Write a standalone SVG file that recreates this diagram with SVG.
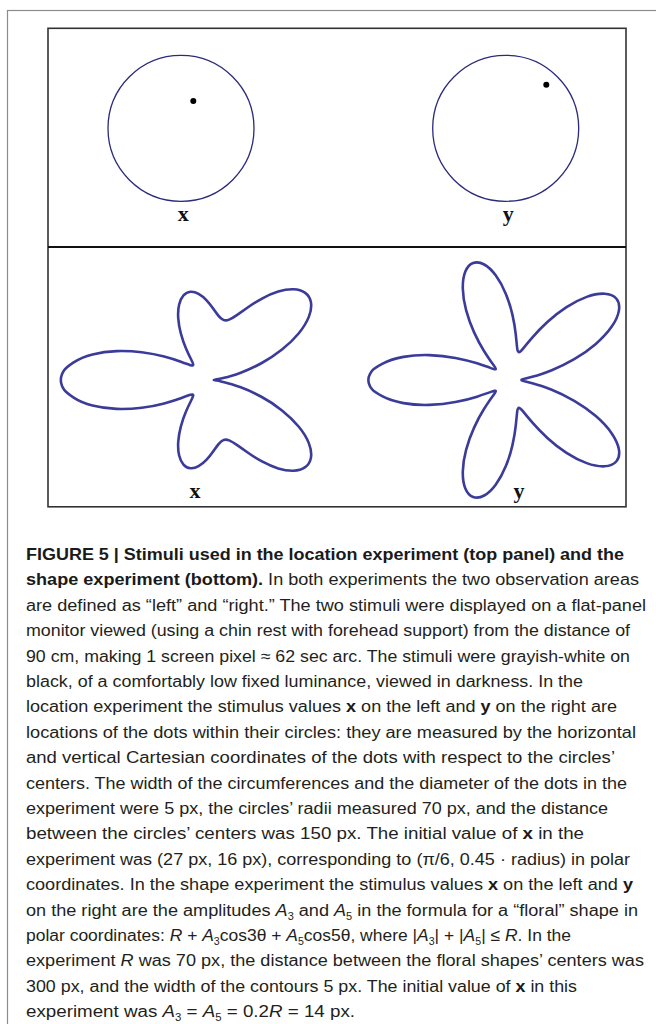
<svg xmlns="http://www.w3.org/2000/svg" width="656" height="1024" viewBox="0 0 656 1024">
<style>
.frame{fill:none;stroke:#8c8c8c;stroke-width:1.2}
.box{fill:none;stroke:#333;stroke-width:1.6}
.circ{fill:none;stroke:#2b2b7c;stroke-width:1.3}
.dot{fill:#000}
.flor{fill:none;stroke:#3b3b9a;stroke-width:2.6;stroke-linejoin:round}
.lab{font-family:"Liberation Serif","Times New Roman",serif;font-weight:bold;font-size:22px;fill:#111;text-anchor:middle}
.cap{font-family:"Liberation Sans",Arial,sans-serif;font-size:17.3px;fill:#231f20}
.b{font-weight:bold;fill:#1a1a1a}
.i{font-style:italic}
.s{font-size:10.5px}
</style>
<rect class="frame" x="7.5" y="10.5" width="700" height="1100"/>
<g id="figure">
<rect class="box" x="48" y="28.3" width="578" height="478.5"/>
<line x1="48" y1="247" x2="626" y2="247" stroke="#111" stroke-width="2"/>
</g>
<g id="top-x">
<circle class="circ" cx="181" cy="128.3" r="73"/>
<circle class="dot" cx="193.3" cy="101" r="3"/>
<text class="lab" x="183.3" y="221">x</text>
</g>
<g id="top-y">
<circle class="circ" cx="505.7" cy="128.3" r="73"/>
<circle class="dot" cx="546.3" cy="84.7" r="3"/>
<text class="lab" x="508.3" y="221">y</text>
</g>
<g id="floral-x">
<path class="flor" d="M61.2,383.25 Q60.5,380 61.2,376.75 Q61.9,373.5 63.95,370.45 Q66.0,367.4 73.65,362.35 Q81.3,357.3 92.5,354.4 Q103.7,351.5 116.55,351.1 Q129.4,350.7 141.75,352.3 Q154.1,353.9 164.15,356.6 Q174.2,359.3 180.85,361.75 Q187.5,364.2 190.45,365.15 Q193.4,366.1 193.2,364.55 Q193.0,363.0 190.8,358.75 Q188.6,354.5 185.8,347.95 Q183.0,341.4 180.9,333.65 Q178.8,325.9 178.25,318.35 Q177.7,310.8 179.1,304.8 Q180.5,298.8 183.5,295.45 Q186.5,292.1 190.45,291.8 Q194.4,291.5 198.55,293.8 Q202.7,296.1 206.35,300.05 Q210,304 212.95,308.25 Q215.9,312.5 218.35,315.65 Q220.8,318.8 223.3,319.9 Q225.8,321.0 229.1,319.65 Q232.4,318.3 237.2,314.9 Q242.0,311.5 248.4,307.0 Q254.8,302.5 262.5,298.3 Q270.2,294.1 278.25,291.6 Q286.3,289.1 293.4,289.3 Q300.5,289.5 305.2,292.85 Q309.9,296.2 310.95,302.4 Q312.0,308.6 308.9,316.65 Q305.8,324.7 298.8,333.25 Q291.8,341.8 282.0,349.6 Q272.2,357.4 261.35,363.25 Q250.5,369.1 240.75,372.7 Q231.0,376.3 224.2,377.85 Q217.4,379.4 214.95,379.7 Q212.5,380 214.95,380.3 Q217.4,380.6 224.2,382.15 Q231.0,383.7 240.75,387.3 Q250.5,390.9 261.35,396.75 Q272.2,402.6 282.0,410.4 Q291.8,418.2 298.8,426.75 Q305.8,435.3 308.9,443.35 Q312.0,451.4 310.95,457.6 Q309.9,463.8 305.2,467.15 Q300.5,470.5 293.4,470.7 Q286.3,470.9 278.25,468.4 Q270.2,465.9 262.5,461.7 Q254.8,457.5 248.4,453.0 Q242.0,448.5 237.2,445.1 Q232.4,441.7 229.1,440.35 Q225.8,439.0 223.3,440.1 Q220.8,441.2 218.35,444.35 Q215.9,447.5 212.95,451.75 Q210,456 206.35,459.95 Q202.7,463.9 198.55,466.2 Q194.4,468.5 190.45,468.2 Q186.5,467.9 183.5,464.55 Q180.5,461.2 179.1,455.2 Q177.7,449.2 178.25,441.65 Q178.8,434.1 180.9,426.35 Q183.0,418.6 185.8,412.05 Q188.6,405.5 190.8,401.25 Q193.0,397.0 193.2,395.45 Q193.4,393.9 190.45,394.85 Q187.5,395.8 180.85,398.25 Q174.2,400.7 164.15,403.4 Q154.1,406.1 141.75,407.7 Q129.4,409.3 116.55,408.9 Q103.7,408.5 92.5,405.6 Q81.3,402.7 73.65,397.65 Q66.0,392.6 63.95,389.55 Q61.9,386.5 61.2,383.25 Z"/>
<text class="lab" x="195" y="498">x</text>
</g>
<g id="floral-y">
<path class="flor" d="M368.8,383.05 Q368,380 368.8,376.95 Q369.6,373.9 371.85,371.0 Q374.1,368.1 382.65,363.6 Q391.2,359.1 403.5,356.9 Q415.8,354.7 429.4,355.15 Q443.0,355.6 455.45,358.0 Q467.9,360.4 477.05,363.35 Q486.2,366.3 490.9,368.1 Q495.6,369.9 495.75,369.05 Q495.9,368.2 492.6,363.75 Q489.3,359.3 484.15,351.2 Q479.0,343.1 474.1,332.4 Q469.2,321.7 466.1,310.15 Q463.0,298.6 462.8,288.45 Q462.6,278.3 465.35,271.6 Q468.1,264.9 473.15,263.05 Q478.2,261.2 484.2,264.5 Q490.2,267.8 495.85,275.55 Q501.5,283.3 505.75,293.65 Q510,304 512.4,314.65 Q514.8,325.3 515.7,333.9 Q516.6,342.5 517.05,347.25 Q517.5,352.0 518.8,352.15 Q520.1,352.3 523.45,348.1 Q526.8,343.9 532.9,336.85 Q539.0,329.8 547.65,321.8 Q556.3,313.8 566.5,307.15 Q576.7,300.5 586.7,296.9 Q596.7,293.3 604.55,293.7 Q612.4,294.1 616.25,298.5 Q620.1,302.9 618.95,310.35 Q617.8,317.8 611.75,326.6 Q605.7,335.4 595.8,343.9 Q585.9,352.4 574.25,359.15 Q562.6,365.9 551.75,370.25 Q540.9,374.6 533.2,376.6 Q525.5,378.6 522.75,379.3 Q520,380 522.75,380.7 Q525.5,381.4 533.2,383.4 Q540.9,385.4 551.75,389.75 Q562.6,394.1 574.25,400.85 Q585.9,407.6 595.8,416.1 Q605.7,424.6 611.75,433.4 Q617.8,442.2 618.95,449.65 Q620.1,457.1 616.25,461.5 Q612.4,465.9 604.55,466.3 Q596.7,466.7 586.7,463.1 Q576.7,459.5 566.5,452.85 Q556.3,446.2 547.65,438.2 Q539.0,430.2 532.9,423.15 Q526.8,416.1 523.45,411.9 Q520.1,407.7 518.8,407.85 Q517.5,408.0 517.05,412.75 Q516.6,417.5 515.7,426.1 Q514.8,434.7 512.4,445.35 Q510,456 505.75,466.35 Q501.5,476.7 495.85,484.45 Q490.2,492.2 484.2,495.5 Q478.2,498.8 473.15,496.95 Q468.1,495.1 465.35,488.4 Q462.6,481.7 462.8,471.55 Q463.0,461.4 466.1,449.85 Q469.2,438.3 474.1,427.6 Q479.0,416.9 484.15,408.8 Q489.3,400.7 492.6,396.25 Q495.9,391.8 495.75,390.95 Q495.6,390.1 490.9,391.9 Q486.2,393.7 477.05,396.65 Q467.9,399.6 455.45,402.0 Q443.0,404.4 429.4,404.85 Q415.8,405.3 403.5,403.1 Q391.2,400.9 382.65,396.4 Q374.1,391.9 371.85,389.0 Q369.6,386.1 368.8,383.05 Z"/>
<text class="lab" x="519" y="498">y</text>
</g>
<g id="caption" class="cap">
<text x="26" y="560" textLength="598" lengthAdjust="spacingAndGlyphs" class="b">FIGURE 5 | Stimuli used in the location experiment (top panel) and the</text>
<text x="26" y="585.4" textLength="613" lengthAdjust="spacingAndGlyphs"><tspan class="b">shape experiment (bottom).</tspan> In both experiments the two observation areas</text>
<text x="26" y="610.8" textLength="620" lengthAdjust="spacingAndGlyphs">are defined as “left” and “right.” The two stimuli were displayed on a flat-panel</text>
<text x="26" y="636.2" textLength="604" lengthAdjust="spacingAndGlyphs">monitor viewed (using a chin rest with forehead support) from the distance of</text>
<text x="26" y="661.6" textLength="604" lengthAdjust="spacingAndGlyphs">90 cm, making 1 screen pixel ≈ 62 sec arc. The stimuli were grayish-white on</text>
<text x="26" y="687" textLength="557" lengthAdjust="spacingAndGlyphs">black, of a comfortably low fixed luminance, viewed in darkness. In the</text>
<text x="26" y="712.4" textLength="591" lengthAdjust="spacingAndGlyphs">location experiment the stimulus values <tspan class="b">x</tspan> on the left and <tspan class="b">y</tspan> on the right are</text>
<text x="26" y="737.8" textLength="610" lengthAdjust="spacingAndGlyphs">locations of the dots within their circles: they are measured by the horizontal</text>
<text x="26" y="763.2" textLength="589" lengthAdjust="spacingAndGlyphs">and vertical Cartesian coordinates of the dots with respect to the circles’</text>
<text x="26" y="788.6" textLength="601" lengthAdjust="spacingAndGlyphs">centers. The width of the circumferences and the diameter of the dots in the</text>
<text x="26" y="814" textLength="582" lengthAdjust="spacingAndGlyphs">experiment were 5 px, the circles’ radii measured 70 px, and the distance</text>
<text x="26" y="839.4" textLength="558" lengthAdjust="spacingAndGlyphs">between the circles’ centers was 150 px. The initial value of <tspan class="b">x</tspan> in the</text>
<text x="26" y="864.8" textLength="604" lengthAdjust="spacingAndGlyphs">experiment was (27 px, 16 px), corresponding to (π/6, 0.45 · radius) in polar</text>
<text x="26" y="890.2" textLength="607" lengthAdjust="spacingAndGlyphs">coordinates. In the shape experiment the stimulus values <tspan class="b">x</tspan> on the left and <tspan class="b">y</tspan></text>
<text x="26" y="915.6" textLength="612" lengthAdjust="spacingAndGlyphs">on the right are the amplitudes <tspan class="i">A</tspan><tspan class="s" dy="4">3</tspan><tspan dy="-4"> and </tspan><tspan class="i">A</tspan><tspan class="s" dy="4">5</tspan><tspan dy="-4"> in the formula for a “floral” shape in</tspan></text>
<text x="26" y="941" textLength="545" lengthAdjust="spacingAndGlyphs">polar coordinates: <tspan class="i">R</tspan> + <tspan class="i">A</tspan><tspan class="s" dy="4">3</tspan><tspan dy="-4">cos3θ + </tspan><tspan class="i">A</tspan><tspan class="s" dy="4">5</tspan><tspan dy="-4">cos5θ, where |</tspan><tspan class="i">A</tspan><tspan class="s" dy="4">3</tspan><tspan dy="-4">| + |</tspan><tspan class="i">A</tspan><tspan class="s" dy="4">5</tspan><tspan dy="-4">| ≤ </tspan><tspan class="i">R</tspan>. In the</text>
<text x="26" y="966.4" textLength="618" lengthAdjust="spacingAndGlyphs">experiment <tspan class="i">R</tspan> was 70 px, the distance between the floral shapes’ centers was</text>
<text x="26" y="991.8" textLength="551" lengthAdjust="spacingAndGlyphs">300 px, and the width of the contours 5 px. The initial value of <tspan class="b">x</tspan> in this</text>
<text x="26" y="1017.2" textLength="329" lengthAdjust="spacingAndGlyphs">experiment was <tspan class="i">A</tspan><tspan class="s" dy="4">3</tspan><tspan dy="-4"> = </tspan><tspan class="i">A</tspan><tspan class="s" dy="4">5</tspan><tspan dy="-4"> = 0.2</tspan><tspan class="i">R</tspan> = 14 px.</text>
</g>
</svg>
